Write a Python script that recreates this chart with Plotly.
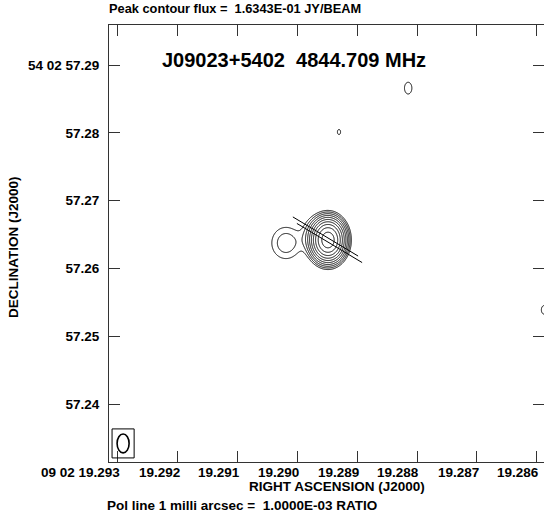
import numpy as np
import plotly.graph_objects as go

# ---------------- map reference position ----------------
ra0_sec = 19.28949       # 09 02 19.28949 (J2000)
dec0_arcsec = 57.26419   # +54 02 57.26419 (J2000)
dec0_deg = 54 + 2 / 60 + dec0_arcsec / 3600
cos_dec = np.cos(np.radians(dec0_deg))

peak_flux = 0.16343      # Jy/beam
base_level = 2.0e-4      # lowest contour, Jy/beam
n_levels = 10            # contours at base_level * 2**k

# ---------------- Gaussian source components ----------------
# offsets in mas (east, north) from the reference, sigmas in mas, amplitudes in Jy/beam
comp_east = [0.0, 1.9, 3.83, 6.19, -11.8, -1.62, -31.8]
comp_north = [0.0, 0.45, 0.0, -0.44, 22.4, 15.93, -10.3]
comp_sig_ew = [0.94, 1.05, 0.88, 1.40, 0.75, 0.75, 0.75]
comp_sig_ns = [1.19, 1.50, 1.03, 1.55, 1.19, 1.19, 1.19]
comp_amp = [None, 0.0009, 0.00006, 0.0006, 0.00026, 0.00021, 0.00023]

# ---------------- restoring beam (mas, deg) ----------------
beam_maj = 2.80
beam_min = 1.77
beam_pa = 0.0

# ---------------- polarization vectors ----------------
pol_east = [0.37, -0.22]
pol_north = [0.52, -0.44]
pol_frac = [0.0112, 0.0112]
pol_pa = [59.0, 59.0]
pol_mas_per_ratio = 1.0 / 1.0e-3   # 1 mas = 1.0E-03 ratio

# ---------------- axes ----------------
ra_ticks = [19.293, 19.292, 19.291, 19.290, 19.289, 19.288, 19.287, 19.286]
ra_labels = ["09 02 19.293", "19.292", "19.291", "19.290", "19.289", "19.288", "19.287", "19.286"]
dec_ticks = [57.24, 57.25, 57.26, 57.27, 57.28, 57.29]
dec_labels = ["57.24", "57.25", "57.26", "57.27", "57.28", "54 02 57.29"]
ra_range = [19.29315, 19.28588]
dec_range = [57.23145, 57.2959]


def to_ra(east_mas):
    return ra0_sec + np.asarray(east_mas) / (15000.0 * cos_dec)


def to_dec(north_mas):
    return dec0_arcsec + np.asarray(north_mas) / 1000.0


def gauss(e, n, i, amp):
    return amp * np.exp(-0.5 * ((e - comp_east[i]) / comp_sig_ew[i]) ** 2
                        - 0.5 * ((n - comp_north[i]) / comp_sig_ns[i]) ** 2)


# main component amplitude chosen so the map peak equals peak_flux
others_at_peak = sum(gauss(0.0, 0.0, i, comp_amp[i]) for i in range(1, len(comp_amp)))
amps = [peak_flux - others_at_peak] + comp_amp[1:]


def model(e, n):
    out = np.zeros_like(e)
    for i, a in enumerate(amps):
        out += gauss(e, n, i, a)
    return out


# evaluation windows around components, merged where they overlap
boxes = []
for i in range(len(amps)):
    boxes.append([comp_east[i] - 5 * comp_sig_ew[i], comp_east[i] + 5 * comp_sig_ew[i],
                  comp_north[i] - 5 * comp_sig_ns[i], comp_north[i] + 5 * comp_sig_ns[i]])
merged = True
while merged:
    merged = False
    for a in range(len(boxes)):
        for b in range(a + 1, len(boxes)):
            A, B = boxes[a], boxes[b]
            if A[0] < B[1] and B[0] < A[1] and A[2] < B[3] and B[2] < A[3]:
                boxes[a] = [min(A[0], B[0]), max(A[1], B[1]), min(A[2], B[2]), max(A[3], B[3])]
                boxes.pop(b)
                merged = True
                break
        if merged:
            break

fig = go.Figure()
step = 0.05
for e0, e1, n0, n1 in boxes:
    ee = np.arange(e0, e1 + step, step)
    nn = np.arange(n0, n1 + step, step)
    E, N = np.meshgrid(ee, nn)
    z = np.log2(np.maximum(model(E, N), base_level / 64) / base_level)
    fig.add_trace(go.Contour(
        x=to_ra(ee), y=to_dec(nn), z=np.round(z, 3),
        autocontour=False,
        contours=dict(start=0, end=n_levels - 1, size=1, coloring="lines"),
        line=dict(width=1, smoothing=1),
        colorscale=[[0, "black"], [1, "black"]],
        showscale=False, hoverinfo="skip"))

# polarization vectors
px, py = [], []
for e, n, f, pa in zip(pol_east, pol_north, pol_frac, pol_pa):
    half = 0.5 * f * pol_mas_per_ratio
    de, dn = half * np.sin(np.radians(pa)), half * np.cos(np.radians(pa))
    px += [float(to_ra(e + de)), float(to_ra(e - de)), None]
    py += [float(to_dec(n + dn)), float(to_dec(n - dn)), None]
fig.add_trace(go.Scatter(x=px, y=py, mode="lines", line=dict(color="black", width=1),
                         hoverinfo="skip", showlegend=False))

# beam in a box at the lower-left corner
corner_e = (ra_range[0] - ra0_sec) * 15000 * cos_dec
corner_n = (dec_range[0] - dec0_arcsec) * 1000
pad = 0.74
box_e0 = corner_e - 0.45
box_n0 = corner_n + 0.6
box_e1 = box_e0 - (beam_min + 2 * pad)
box_n1 = box_n0 + (beam_maj + 2 * pad)
bc_e, bc_n = 0.5 * (box_e0 + box_e1), 0.5 * (box_n0 + box_n1)
shapes = [
    dict(type="rect", xref="x", yref="y", x0=float(to_ra(box_e0)), x1=float(to_ra(box_e1)),
         y0=float(to_dec(box_n0)), y1=float(to_dec(box_n1)), line=dict(color="black", width=1)),
    dict(type="circle", xref="x", yref="y",
         x0=float(to_ra(bc_e + beam_min / 2)), x1=float(to_ra(bc_e - beam_min / 2)),
         y0=float(to_dec(bc_n - beam_maj / 2)), y1=float(to_dec(bc_n + beam_maj / 2)),
         line=dict(color="black", width=1.6)),
]

font = dict(family="Liberation Sans, Arial, sans-serif", color="black", weight="bold")
W, H = 435, 437   # plot area size in px
ann = [
    dict(text="Peak contour flux =\u00a0 1.6343E-01 JY/BEAM", xref="paper", yref="paper",
         x=-2 / W, y=1 + 16 / H, xanchor="left", yanchor="middle", showarrow=False,
         font=dict(font, size=12.8)),
    dict(text="J09023+5402\u00a0 4844.709 MHz", xref="paper", yref="paper",
         x=(294 - 109) / W, y=(462 - 60) / H, xanchor="center", yanchor="middle",
         showarrow=False, font=dict(font, size=20)),
    dict(text="RIGHT ASCENSION (J2000)", xref="paper", yref="paper",
         x=(337 - 109) / W, y=-(487 - 462) / H, xanchor="center", yanchor="middle",
         showarrow=False, font=dict(font, size=13.5)),
    dict(text="Pol line 1 milli arcsec =\u00a0 1.0000E-03 RATIO", xref="paper", yref="paper",
         x=-4 / W, y=-(505 - 462) / H, xanchor="left", yanchor="middle",
         showarrow=False, font=dict(font, size=13.5)),
    dict(text="DECLINATION (J2000)", xref="paper", yref="paper", textangle=-90,
         x=-(109 - 14) / W, y=(462 - 247) / H, xanchor="center", yanchor="middle",
         showarrow=False, font=dict(font, size=13.5)),
]
# RA tick labels sit just left of their ticks
for v, t in zip(ra_ticks, ra_labels):
    ann.append(dict(text=t, xref="x", yref="paper", x=v, y=0, xanchor="right", yanchor="top",
                    xshift=4, yshift=-1, showarrow=False, font=dict(font, size=13.5)))

axis_common = dict(showgrid=False, zeroline=False, showline=True, mirror="ticks",
                   linecolor="#333", linewidth=1, ticks="inside", ticklen=11,
                   tickwidth=1, tickcolor="#333", tickfont=dict(font, size=13.5))
fig.update_layout(
    width=544, height=518, margin=dict(l=109, r=0, t=25, b=56),
    paper_bgcolor="white", plot_bgcolor="white", showlegend=False,
    xaxis=dict(axis_common, range=ra_range, tickvals=ra_ticks, showticklabels=False),
    yaxis=dict(axis_common, range=dec_range, tickvals=dec_ticks, ticktext=dec_labels,
               ticklabelstandoff=6),
    shapes=shapes, annotations=ann,
)

fig.write_html("out.html")
